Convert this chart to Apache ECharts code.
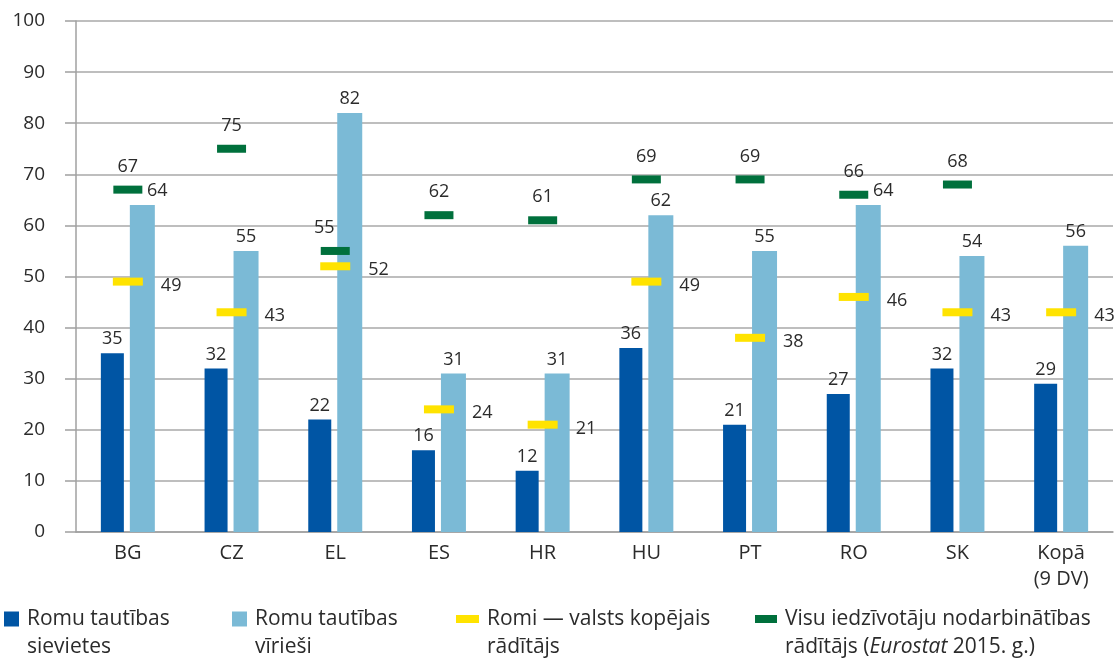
<!DOCTYPE html>
<html>
<head>
<meta charset="utf-8">
<script src="https://cdn.jsdelivr.net/npm/echarts@6/dist/echarts.min.js"></script>
<style>html,body{margin:0;padding:0;background:#fff}#c{width:1117px;height:659px}</style>
</head>
<body>
<div id="c"></div>
<script>
const categories = ['BG', 'CZ', 'EL', 'ES', 'HR', 'HU', 'PT', 'RO', 'SK', 'Kopā\n(9 DV)'];
const romaWomen = [35, 32, 22, 16, 12, 36, 21, 27, 32, 29];
const romaMen = [64, 55, 82, 31, 31, 62, 55, 64, 54, 56];
const romaTotal = [49, 43, 52, 24, 21, 49, 38, 46, 43, 43];
const generalPop = [67, 75, 55, 62, 61, 69, 69, 66, 68, null];
const yTicks = [0, 10, 20, 30, 40, 50, 60, 70, 80, 90, 100];

const names = ['Romu tautības sievietes', 'Romu tautības vīrieši', 'Romi — valsts kopējais rādītājs', 'Visu iedzīvotāju nodarbinātības rādītājs (Eurostat 2015. g.)'];
const legendText = {
  [names[0]]: 'Romu tautības\nsievietes',
  [names[1]]: 'Romu tautības\nvīrieši',
  [names[2]]: 'Romi — valsts kopējais\nrādītājs',
  [names[3]]: 'Visu iedzīvotāju nodarbinātības\n{a|rādītājs (}{i|Eurostat}{a| 2015. g.)}'
};
const FONT = 'Open Sans';
const TXT = '#2b2b2b';
const colors = ['#0055a4', '#7bbad6', '#ffe300', '#00703c'];
const LFS = 21;

// label nudges (where the source shifted labels away from overlapping markers)
const menLabelShift = {0: [15, 0], 7: [15, 0]};
const popLabelShift = {2: [-11, 0]};

const chart = echarts.init(document.getElementById('c'), null, {renderer: 'canvas'});
const legendTextStyle = {
  fontFamily: FONT, fontSize: LFS, color: TXT, lineHeight: 28, padding: [28, 0, 0, 3],
  rich: {
    a: {fontFamily: FONT, fontSize: LFS, color: TXT, lineHeight: 28},
    i: {fontFamily: FONT, fontSize: LFS, color: TXT, lineHeight: 28, fontStyle: 'italic'}
  }
};
function mkLegend(i, left, w, h) {
  return {
    data: [{name: names[i], icon: 'rect'}], left: left, top: 577, orient: 'horizontal', padding: 0,
    itemWidth: w, itemHeight: h, itemGap: 0, selectedMode: false,
    textStyle: legendTextStyle, formatter: n => legendText[n]
  };
}
const option = {
  animation: false,
  backgroundColor: '#fff',
  color: colors,
  textStyle: {fontFamily: FONT},
  grid: {left: 76, right: 4, top: 21, bottom: 127, containLabel: false},
  legend: [mkLegend(0, 4, 15, 15), mkLegend(1, 232, 15, 15), mkLegend(2, 456, 23, 8), mkLegend(3, 755, 22, 8)],
  xAxis: {
    type: 'category', data: categories,
    axisLine: {show: true, lineStyle: {color: '#a0a0a0', width: 1.5}},
    axisTick: {show: false},
    axisLabel: {fontFamily: FONT, fontSize: 20, color: TXT, margin: 8, lineHeight: 26, interval: 0}
  },
  yAxis: {
    type: 'value', min: 0, max: 100, interval: 10,
    axisLine: {show: true, lineStyle: {color: '#a0a0a0', width: 1.5}},
    axisTick: {show: true, length: 11, lineStyle: {color: '#a0a0a0', width: 1.5}},
    splitLine: {show: true, lineStyle: {color: '#a8a8a8', width: 1.5}},
    axisLabel: {fontFamily: FONT, fontSize: 19, color: TXT, margin: 31,
      formatter: v => yTicks.includes(v) ? String(v) : ''}
  },
  series: [
    {name: names[0], type: 'bar', data: romaWomen, barWidth: 23, barGap: '26%',
     itemStyle: {color: colors[0]},
     label: {show: true, position: 'top', distance: 5, fontFamily: FONT, fontSize: 18, color: TXT}},
    {name: names[1], type: 'bar', barWidth: 25,
     data: romaMen.map((v, i) => menLabelShift[i] ? {value: v, label: {offset: menLabelShift[i]}} : v),
     itemStyle: {color: colors[1]},
     label: {show: true, position: 'top', distance: 5, fontFamily: FONT, fontSize: 18, color: TXT}},
    {name: names[2], type: 'scatter', data: romaTotal, symbol: 'rect', symbolSize: [30, 8], z: 5,
     itemStyle: {color: colors[2], opacity: 1},
     label: {show: true, position: 'right', distance: 18, offset: [0, 4], fontFamily: FONT, fontSize: 18, color: TXT}},
    {name: names[3], type: 'scatter', symbol: 'rect', symbolSize: [29, 8], z: 5,
     data: generalPop.map((v, i) => popLabelShift[i] ? {value: v, label: {offset: popLabelShift[i]}} : v),
     itemStyle: {color: colors[3], opacity: 1},
     label: {show: true, position: 'top', distance: 10, fontFamily: FONT, fontSize: 18, color: TXT}}
  ]
};
chart.setOption(option);
</script>
</body>
</html>
